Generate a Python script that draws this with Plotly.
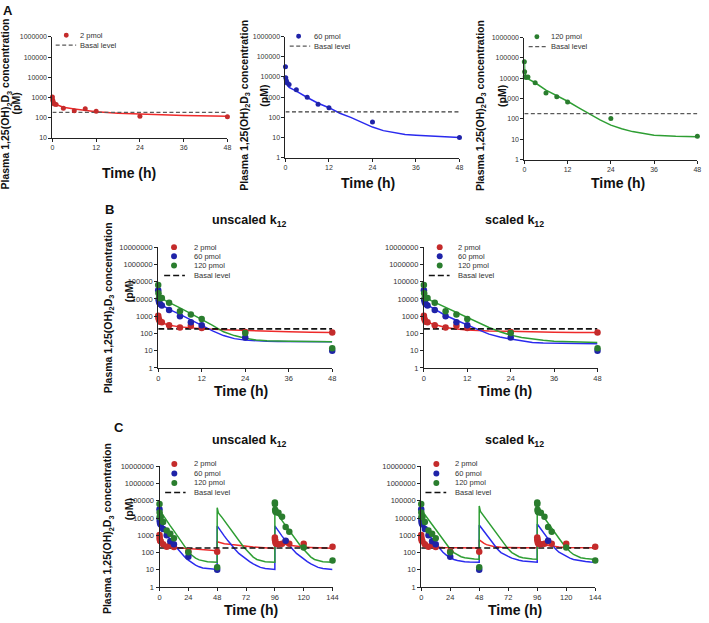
import plotly.graph_objects as go

W, H = 709, 623
FONT = "Liberation Sans, Arial, sans-serif"

# ---------------- data ----------------
# observed (first dose, 0-48 h)
t_obs = [0, 0.08, 0.25, 0.5, 1, 3, 6, 9, 12, 24, 48]
obs_2 = [1050, 750, 600, 480, 450, 300, 220, 280, 210, 120, 112]
obs_60 = [32000, 9000, 6500, 5000, 4200, 2300, 1000, 450, 300, 58, 10]
obs_120 = [65000, 21000, 12000, 11000, 11500, 6000, 1900, 1250, 680, 105, 14]

# observed (third dose, 96-144 h)
t_obs3 = [96, 96.08, 96.25, 96.5, 97, 99, 102, 105, 108, 120, 144]
obs3_2 = [750, 600, 500, 380, 330, 300, 320, 450, 330, 320, 220]
obs3_120 = [80000, 65000, 30000, 24000, 22000, 20000, 12000, 3000, 1600, 200, 35]
t_obs3_60 = [105]
obs3_60 = [480]

basal = 185

# ---- panel A model curves ----
tA1 = [0, 0.5, 1, 2, 3, 6, 9, 12, 18, 24, 30, 36, 42, 48]
fitA1 = [700, 520, 450, 380, 330, 270, 230, 200, 170, 150, 140, 130, 124, 118]
tA2 = [0, 0.25, 0.5, 1, 2, 3, 6, 9, 12, 15, 18, 21, 24, 27, 30, 33, 36, 42, 48]
fitA2 = [11000, 6000, 4200, 3000, 2500, 2000, 960, 500, 300, 160, 100, 55, 33, 22, 17, 14, 13, 11, 10]
tA3 = [0, 0.1, 0.5, 1, 3, 6, 9, 12, 15, 18, 21, 24, 27, 30, 33, 36, 42, 48]
fitA3 = [80000, 20000, 10500, 9500, 6000, 2600, 1400, 740, 360, 173, 90, 50, 33, 24, 19, 16, 14, 13.5]

# ---- panel B model curves ----
tB_r = [0, 0.5, 1, 2, 3, 6, 9, 12, 18, 24, 30, 36, 42, 48]
tB = [0, 0.5, 1, 2, 3, 6, 9, 12, 15, 18, 21, 24, 27, 30, 33, 36, 42, 48]
B1_2 = [1000, 650, 470, 350, 300, 240, 210, 190, 165, 148, 135, 125, 118, 113]
B1_60 = [10000, 6500, 4700, 3300, 2500, 1260, 600, 280, 140, 75, 50, 41, 37, 35, 34, 34, 33, 33]
B1_120 = [17000, 13000, 11000, 8000, 6400, 3000, 1400, 650, 290, 124, 75, 52, 42, 38, 36, 35, 34, 33]
B2_2 = [1000, 650, 480, 380, 330, 220, 180, 160, 140, 130, 122, 118, 115, 113]
B2_60 = [10000, 6500, 4700, 3300, 2450, 1100, 580, 300, 165, 91, 62, 47, 37, 30, 28, 27, 26, 25]
B2_120 = [22000, 14000, 11000, 8000, 6400, 3000, 1550, 780, 410, 220, 125, 80, 58, 47, 40, 35, 32, 30]

# ---- panel C model curves (three doses: 0, 48, 96 h) ----
tC_r = [0, 0.5, 1, 2, 3, 6, 9, 12, 18, 24, 30, 36, 42, 48,
        48, 51, 54, 60, 66, 72, 78, 84, 90, 96,
        96, 99, 102, 108, 114, 120, 126, 132, 138, 144]
C1_2 = [1000, 700, 520, 380, 320, 250, 220, 200, 185, 170, 160, 150, 140, 130,
        420, 370, 330, 290, 255, 230, 210, 195, 185, 175,
        500, 400, 330, 270, 235, 210, 200, 190, 185, 180]
tC_r2 = [0, 0.5, 1, 2, 3, 6, 9, 12, 18, 24, 36, 48,
         48, 50, 52, 54, 57, 60, 66, 72, 84, 96,
         96, 98, 100, 102, 105, 108, 114, 120, 132, 144]
C2_2 = [1000, 700, 550, 420, 350, 260, 220, 205, 195, 190, 188, 186,
        550, 420, 340, 290, 250, 225, 205, 195, 190, 188,
        600, 450, 360, 300, 260, 235, 210, 200, 192, 190]

tC_b = [0, 1, 3, 6, 9, 12, 15, 18, 21, 24, 27, 30, 33, 36, 40, 44, 48,
        48, 51, 54, 57, 60, 63, 66, 69, 72, 75, 78, 81, 84, 88, 92, 96,
        96, 99, 102, 105, 108, 111, 114, 117, 120, 123, 126, 129, 132, 136, 140, 144]
C1_60 = [10000, 5000, 2500, 1100, 550, 290, 160, 90, 55, 37, 26, 19, 15, 13, 12, 11, 10.5,
         3500, 1700, 900, 480, 260, 150, 90, 60, 42, 30, 22, 17, 14, 12, 11, 10.5,
         3500, 1700, 900, 480, 260, 150, 90, 60, 42, 30, 22, 17, 14, 12, 11, 10.5]
C2_60 = [10000, 5000, 2600, 1200, 600, 340, 190, 105, 70, 50, 40, 35, 32, 30, 29, 28.5, 28,
         4000, 2100, 1100, 560, 280, 160, 100, 75, 60, 48, 40, 36, 33, 31, 29, 28,
         4500, 2300, 1150, 580, 290, 165, 105, 78, 60, 48, 40, 36, 33, 31, 29, 28]

tC_g = [0, 3, 6, 9, 12, 15, 18, 21, 24, 27, 30, 33, 36, 40, 44, 48,
        48, 49, 52, 55, 58, 61, 64, 67, 70, 72, 75, 78, 81, 84, 88, 92, 96,
        96, 97, 100, 103, 106, 109, 112, 115, 118, 120, 123, 126, 129, 132, 136, 140, 144]
C1_120 = [30000, 14000, 7000, 3500, 1800, 900, 440, 220, 115, 70, 48, 38, 33, 30, 29, 28,
          40000, 20000, 11000, 5600, 2900, 1500, 780, 400, 210, 150, 85, 55, 40, 34, 30, 29, 28,
          40000, 20000, 11000, 5600, 2900, 1500, 780, 400, 210, 150, 85, 55, 40, 34, 30, 29, 28]
C2_120 = [30000, 15500, 8000, 4000, 2100, 1100, 570, 300, 155, 100, 72, 58, 50, 45, 42, 41,
          50000, 24000, 12500, 6500, 3300, 1700, 900, 460, 240, 160, 100, 72, 58, 50, 45, 42, 41,
          70000, 30000, 15000, 7800, 4000, 2000, 1050, 540, 280, 190, 115, 78, 60, 50, 45, 42, 40]

# tick settings
x48 = [0, 12, 24, 36, 48]
x144 = [0, 24, 48, 72, 96, 120, 144]
yt6 = [1, 10, 100, 1000, 10000, 100000, 1000000]
yt7 = yt6 + [10000000]

# ---------------- colours ----------------
RED_M, RED_L = "#C42B2B", "#EE2A2A"
BLUE_M, BLUE_L = "#1F23A8", "#2A2AEE"
GRN_M, GRN_L = "#2A7D2E", "#2E9E33"


def fx(x):
    return x / W


def fy(y):
    return 1 - y / H


# panel geometry in pixels: (x0, x1, ytop, ybottom)
geo = {
    1: (51, 228, 33.3, 136),
    2: (286.7, 462.7, 33, 156),
    3: (528.3, 703.3, 34, 158),
    4: (158, 334, 246.7, 369.3),
    5: (426.7, 602.3, 246.7, 369.3),
    6: (159.3, 334.3, 469, 591.7),
    7: (424, 600, 469, 591.7),
}
yranges = {1: (1, 6), 2: (0, 6), 3: (0, 6), 4: (0, 7), 5: (0, 7), 6: (0, 7), 7: (0, 7)}
xranges = {1: 48, 2: 48, 3: 48, 4: 48, 5: 48, 6: 144, 7: 144}

fig = go.Figure()


def ax(i):
    return ("x" if i == 1 else f"x{i}"), ("y" if i == 1 else f"y{i}")


def line(i, t, v, color, width=1.5, dash=None):
    xa, ya = ax(i)
    fig.add_trace(go.Scatter(x=t, y=v, mode="lines", xaxis=xa, yaxis=ya,
                             line=dict(color=color, width=width, dash=dash),
                             showlegend=False, hoverinfo="skip"))


def pts(i, t, v, color, size=6.5):
    xa, ya = ax(i)
    fig.add_trace(go.Scatter(x=t, y=v, mode="markers", xaxis=xa, yaxis=ya,
                             marker=dict(color=color, size=size),
                             cliponaxis=False, showlegend=False))


def basal_line(i, tmax, color, width, dash):
    line(i, [0, tmax], [basal, basal], color, width, dash)


# Panel A
line(1, tA1, fitA1, RED_L)
basal_line(1, 48, "#5a5a5a", 1.3, "4px,2.5px")
pts(1, t_obs, obs_2, RED_M, 5)
line(2, tA2, fitA2, BLUE_L)
basal_line(2, 48, "#3a3a3a", 1.3, "4px,2.5px")
pts(2, t_obs, obs_60, BLUE_M, 5)
line(3, tA3, fitA3, GRN_L)
basal_line(3, 48, "#5a5a5a", 1.3, "4px,2.5px")
pts(3, t_obs, obs_120, GRN_M, 5)

# Panel B
for i, r, b, g in [(4, B1_2, B1_60, B1_120), (5, B2_2, B2_60, B2_120)]:
    line(i, tB_r, r, RED_L)
    line(i, tB, b, BLUE_L)
    line(i, tB, g, GRN_L)
    basal_line(i, 48, "#111111", 1.6, "6px,3px")
    pts(i, t_obs, obs_2, RED_M)
    pts(i, t_obs, obs_60, BLUE_M)
    pts(i, t_obs, obs_120, GRN_M)

# Panel C
for i, tr, r, b, g in [(6, tC_r, C1_2, C1_60, C1_120), (7, tC_r2, C2_2, C2_60, C2_120)]:
    line(i, tr, r, RED_L)
    line(i, tC_b, b, BLUE_L)
    line(i, tC_g, g, GRN_L)
    basal_line(i, 144, "#111111", 1.6, "6px,3px")
    pts(i, t_obs, obs_2, RED_M)
    pts(i, t_obs, obs_60, BLUE_M)
    pts(i, t_obs, obs_120, GRN_M)
    pts(i, t_obs3, obs3_2, RED_M)
    pts(i, t_obs3_60, obs3_60, BLUE_M)
    pts(i, t_obs3, obs3_120, GRN_M)

layout = dict(width=W, height=H, margin=dict(l=0, r=0, t=0, b=0),
              paper_bgcolor="white", plot_bgcolor="white", showlegend=False,
              font=dict(family=FONT, color="#333333"))

for i in range(1, 8):
    x0, x1, yt, yb = geo[i]
    xname = "xaxis" if i == 1 else f"xaxis{i}"
    yname = "yaxis" if i == 1 else f"yaxis{i}"
    xa, ya = ax(i)
    xt = x48 if xranges[i] == 48 else x144
    tick_fs = 7 if i <= 3 else 7.5
    layout[xname] = dict(domain=[fx(x0), fx(x1)], range=[0, xranges[i]], anchor=ya,
                         tickvals=xt, ticktext=[str(v) for v in xt],
                         showline=True, linecolor="#222", linewidth=1,
                         ticks="outside", ticklen=3, tickcolor="#222", tickwidth=1,
                         showgrid=False, zeroline=False, ticklabeloverflow="allow",
                         tickfont=dict(size=tick_fs, color="#333", family=FONT))
    yv = yt7 if yranges[i][1] == 7 else yt6
    yv = [v for v in yv if v >= 10 ** yranges[i][0]]
    layout[yname] = dict(domain=[fy(yb), fy(yt)], type="log", range=list(yranges[i]),
                         anchor=xa, tickvals=yv, ticktext=[str(v) for v in yv],
                         showline=True, linecolor="#222", linewidth=1,
                         ticks="outside", ticklen=3, tickcolor="#222", tickwidth=1,
                         showgrid=False, zeroline=False, ticklabeloverflow="allow",
                         tickfont=dict(size=tick_fs, color="#333", family=FONT))

ann = []
shapes = []


def text(x, y, s, size, bold=False, anchor="center", angle=0, color="#111"):
    ann.append(dict(x=fx(x), y=fy(y), xref="paper", yref="paper",
                    text=f"<b>{s}</b>" if bold else s, showarrow=False,
                    xanchor=anchor, yanchor="middle", textangle=angle,
                    font=dict(size=size, family=FONT, color=color)))


YT = "Plasma 1,25(OH)<sub>2</sub>D<sub>3</sub> concentration"
# y titles
for (mx, my, px_, py_) in [(4, 101, 14, 101), (245, 103, 265, 93), (484, 103, 505, 93),
                           (108, 308, 128, 292), (108, 532, 128, 513)]:
    text(mx, my, YT, 10.5, True, angle=-90)
    text(px_, py_, "(pM)", 10.5, True, angle=-90)

# x titles
for (x, y) in [(128, 171), (370, 182), (623, 182), (242, 393), (509, 393), (252, 615), (519, 615)]:
    text(x, y, "Time (h)", 14, True)

# panel titles & letters
text(250, 220, "unscaled k<sub>12</sub>", 12.5, True)
text(518, 220, "scaled k<sub>12</sub>", 12.5, True)
text(250, 443, "unscaled k<sub>12</sub>", 12.5, True)
text(518, 443, "scaled k<sub>12</sub>", 12.5, True)
text(6, 7, "A", 13, True)
text(109, 209, "B", 13, True)
text(118, 430, "C", 13, True)


def leg_marker(cx, cy, color, r=3):
    shapes.append(dict(type="circle", xref="paper", yref="paper",
                       x0=fx(cx - r), x1=fx(cx + r), y0=fy(cy + r), y1=fy(cy - r),
                       fillcolor=color, line=dict(width=0)))


def leg_dash(xa, xb, cy, color, width, dash):
    shapes.append(dict(type="line", xref="paper", yref="paper",
                       x0=fx(xa), x1=fx(xb), y0=fy(cy), y1=fy(cy),
                       line=dict(color=color, width=width, dash=dash)))


# panel A legends
for (mx, my, tx, dx0, dx1, dy, lab, col) in [
        (65, 31.7, 77.3, 54.3, 75, 41.7, "2 pmol", RED_M),
        (300, 32.7, 313.3, 291, 311.7, 42.7, "60 pmol", BLUE_M),
        (541, 33.3, 553.3, 532.7, 551.7, 43.3, "120 pmol", GRN_M)]:
    leg_marker(mx, my, col, 2.5)
    text(tx, my, lab, 7.5, anchor="left", color="#333")
    leg_dash(dx0, dx1, dy, "#5a5a5a", 1.3, "4px,2.5px")
    text(tx, dy, "Basal level", 7.5, anchor="left", color="#333")

# panel B / C legends
for (mx, tx, dx0, dx1, ys) in [
        (174, 191.7, 164, 185, (246.7, 256, 265.3, 275.5)),
        (442.7, 459.3, 431.7, 452.7, (246.7, 256, 265.3, 275.5)),
        (174.3, 191.7, 165, 185.7, (466.7, 476.3, 486, 495.7)),
        (439.3, 456, 428.3, 449.3, (466.7, 476.3, 486, 495.7))]:
    for y, lab, col in zip(ys[:3], ["2 pmol", "60 pmol", "120 pmol"], [RED_M, BLUE_M, GRN_M]):
        leg_marker(mx, y, col, 3)
        text(tx, y, lab, 7.5, anchor="left", color="#333")
    leg_dash(dx0, dx1, ys[3], "#111111", 1.6, "6px,3px")
    text(tx, ys[3], "Basal level", 7.5, anchor="left", color="#333")

layout["annotations"] = ann
layout["shapes"] = shapes
fig.update_layout(**layout)
fig.write_html("out.html", config={"displayModeBar": False},
               post_script="document.body.style.margin='0px';document.body.style.padding='0px';")
